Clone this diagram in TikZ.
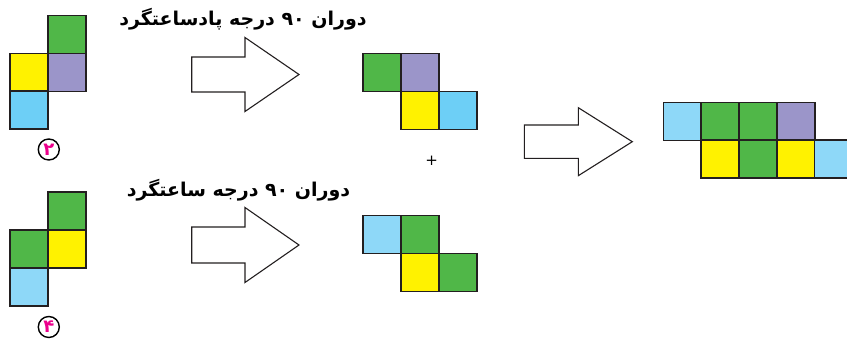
\documentclass[tikz,border=0pt]{standalone}
\usepackage{fontspec}
\newfontfamily\arabicfont[Script=Arabic,BoldFont={DejaVu Sans Bold}]{DejaVu Sans}
\TeXXeTstate=1
\definecolor{cgreen}{HTML}{50B748}
\definecolor{cyellow}{HTML}{FFF200}
\definecolor{cpurple}{HTML}{9B95C9}
\definecolor{cblueA}{HTML}{6DCFF6}
\definecolor{cblueB}{HTML}{8ED8F8}
\definecolor{cline}{HTML}{231F20}
\definecolor{cmag}{HTML}{EC008C}
\tikzset{
  cell/.style={draw=cline, line width=1.6pt, line join=miter},
  bigarrow/.style={draw=cline, line width=1.1pt, fill=white, line join=miter},
  title/.style={font=\arabicfont\bfseries\fontsize{19}{22}\selectfont, inner sep=0pt},
  badge/.style={circle, draw=black, line width=1.4pt, minimum size=21pt, inner sep=0pt, text=cmag, font=\arabicfont\bfseries\fontsize{18}{18}\selectfont},
}
\newcommand{\cellat}[3]{\path[cell, fill=#1] (#2,#3) rectangle ++(38,38);}
% arrow: tail x, tip x, center y, shaft half, head half, head x
\newcommand{\fatarrow}[6]{\path[bigarrow] (#1,#3-#4) -- (#6,#3-#4) -- (#6,#3-#5) -- (#2,#3) -- (#6,#3+#5) -- (#6,#3+#4) -- (#1,#3+#4) -- cycle;}
\begin{document}
\begin{tikzpicture}[x=1pt,y=-1pt]
\useasboundingbox (0,0) rectangle (847,339);
% piece 2
\cellat{cgreen}{47.7}{15.7}
\cellat{cyellow}{9.7}{53.5}
\cellat{cpurple}{47.7}{53.5}
\cellat{cblueA}{9.7}{91.3}
\node[badge] (b2) at (48.8,149.5) {\beginR ۲\endR};
% piece 4
\cellat{cgreen}{47.7}{192.3}
\cellat{cgreen}{9.7}{230.1}
\cellat{cyellow}{47.7}{230.1}
\cellat{cblueB}{9.7}{267.9}
\node[badge] (b4) at (48.8,327) {\beginR ۴\endR};
% titles
\node[title] (t1) at (243,19) {\beginR دوران ۹۰ درجه پادساعتگرد\endR};
\node[title] (t2) at (238.5,190) {\beginR دوران ۹۰ درجه ساعتگرد\endR};
% arrows
\fatarrow{191.7}{299}{74.5}{17.5}{37}{245}
\fatarrow{191.7}{299}{245}{18}{37.5}{245}
\fatarrow{524.3}{632.3}{141.7}{16.7}{34}{578.3}
% top middle piece
\cellat{cgreen}{362.7}{53.5}
\cellat{cpurple}{400.7}{53.5}
\cellat{cyellow}{400.7}{91.5}
\cellat{cblueA}{438.7}{91.5}
\node[inner sep=0pt, font=\arabicfont\fontsize{15}{15}\selectfont] (plus) at (431.7,160.7) {+};
% bottom middle piece
\cellat{cblueB}{362.7}{215.7}
\cellat{cgreen}{400.7}{215.7}
\cellat{cyellow}{400.7}{253.7}
\cellat{cgreen}{438.7}{253.7}
% result
\cellat{cblueB}{663.3}{102.5}
\cellat{cgreen}{701.1}{102.5}
\cellat{cgreen}{738.9}{102.5}
\cellat{cpurple}{776.7}{102.5}
\cellat{cyellow}{701.1}{140.1}
\cellat{cgreen}{738.9}{140.1}
\cellat{cyellow}{776.7}{140.1}
\cellat{cblueB}{814.5}{140.1}
\end{tikzpicture}
\end{document}
